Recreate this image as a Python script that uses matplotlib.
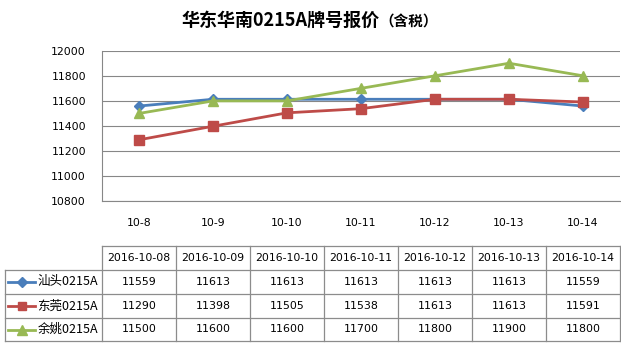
import matplotlib
matplotlib.use("Agg")
import matplotlib.pyplot as plt
from matplotlib.lines import Line2D
from matplotlib.transforms import blended_transform_factory

categories = ["10-8", "10-9", "10-10", "10-11", "10-12", "10-13", "10-14"]
dates = ["2016-10-08", "2016-10-09", "2016-10-10", "2016-10-11",
         "2016-10-12", "2016-10-13", "2016-10-14"]
series_names = ["汕头0215A", "东莞0215A", "余姚0215A"]
shantou = [11559, 11613, 11613, 11613, 11613, 11613, 11559]
dongguan = [11290, 11398, 11505, 11538, 11613, 11613, 11591]
yuyao = [11500, 11600, 11600, 11700, 11800, 11900, 11800]
yticks = [10800, 11000, 11200, 11400, 11600, 11800, 12000]

series = [shantou, dongguan, yuyao]
colors = ["#4A7EBB", "#BE4B48", "#98B954"]
markers = ["D", "s", "^"]
msizes = [5.5, 7, 7.5]

W, H = 621, 351
fig = plt.figure(figsize=(W / 100, H / 100), dpi=100)
cjk = ["Noto Sans CJK SC", "DejaVu Sans"]

def fy(p):
    return 1 - p / H

def fx(p):
    return p / W

ax = fig.add_axes([fx(102), fy(201.3), fx(620) - fx(102), fy(50.7) - fy(201.3)])
x = list(range(len(categories)))
for vals, c, m, ms in zip(series, colors, markers, msizes):
    ax.plot(x, vals, color=c, lw=2.0, marker=m, ms=ms, mec=c, mfc=c, zorder=3)
ax.set_xlim(-0.5, len(categories) - 0.5)
ax.set_ylim(yticks[0], yticks[-1])
ax.set_yticks(yticks)
ax.set_yticklabels([str(v) for v in yticks], fontsize=7.8, family="DejaVu Sans")
ax.set_xticks([])
ax.tick_params(axis="y", length=0, pad=11.5)
ax.grid(axis="y", color="#878787", lw=0.8)
ax.set_axisbelow(True)
for s in ["top", "right"]:
    ax.spines[s].set_visible(False)
for s in ["left", "bottom"]:
    ax.spines[s].set_color("#878787")
    ax.spines[s].set_linewidth(0.8)

# title
fig.text(fx(181), fy(20.5), "华东华南0215A牌号报价", fontsize=13, fontweight="bold",
         family=cjk, ha="left", va="center")
fig.text(fx(379), fy(21.5), "（含税）", fontsize=10.5, fontweight="bold",
         family=cjk, ha="left", va="center")

# category labels
bt = blended_transform_factory(ax.transData, fig.transFigure)
for i, c in enumerate(categories):
    fig.text(i, fy(223), c, transform=bt, ha="center", va="center",
             fontsize=7.8, family="DejaVu Sans")

# data table
gc = "#8C8C8C"
n = len(categories)
rows_y = [246, 270, 294, 318, 341]

fig.add_artist(Line2D([-0.5, n - 0.5], [fy(rows_y[0])] * 2, transform=bt, color=gc, lw=0.9))
for y in rows_y[1:]:
    fig.add_artist(Line2D([fx(5), fx(620)], [fy(y)] * 2, transform=fig.transFigure, color=gc, lw=0.9))
for i in range(n + 1):
    fig.add_artist(Line2D([i - 0.5, i - 0.5], [fy(rows_y[0]), fy(rows_y[-1])], transform=bt, color=gc, lw=0.9))
fig.add_artist(Line2D([fx(5), fx(5)], [fy(rows_y[1]), fy(rows_y[-1])], transform=fig.transFigure, color=gc, lw=0.9))

for i, d in enumerate(dates):
    fig.text(i, fy((rows_y[0] + rows_y[1]) / 2), d, transform=bt, ha="center", va="center",
             fontsize=7.8, family="DejaVu Sans")
for r, (vals, nm, c, m, ms) in enumerate(zip(series, series_names, colors, markers, msizes)):
    yc = fy((rows_y[r + 1] + rows_y[r + 2]) / 2)
    for i, v in enumerate(vals):
        fig.text(i, yc, str(v), transform=bt, ha="center", va="center",
                 fontsize=7.9, family="DejaVu Sans")
    fig.add_artist(Line2D([fx(8), fx(35)], [yc, yc], transform=fig.transFigure, color=c, lw=2.0))
    fig.add_artist(Line2D([fx(21.5)], [yc], transform=fig.transFigure, color=c, marker=m,
                          ms=ms * 0.9, mec=c, mfc=c, lw=0))
    fig.text(fx(37.5), yc, nm, ha="left", va="center", fontsize=9, family=cjk)

fig.savefig("out.png", dpi=100)
